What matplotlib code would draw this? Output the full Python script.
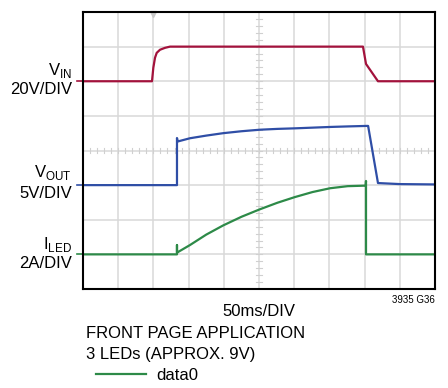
import numpy as np
import matplotlib
matplotlib.use('Agg')
import matplotlib.pyplot as plt

plt.rcParams['font.family'] = ['Liberation Sans Narrow', 'Liberation Sans', 'DejaVu Sans']
plt.rcParams['mathtext.fontset'] = 'custom'
plt.rcParams['mathtext.rm'] = 'Liberation Sans'

# scope traces, time in ms (50ms/DIV)
vin_t = [0, 98, 99.9, 102.3, 104.7, 109.4, 116.5, 123.6, 397.7, 402, 419, 500]
vin_v = [0, 0, 7.8, 13.6, 16.4, 18.2, 19.3, 20, 20, 10, 0, 0]          # 20V/DIV

vout_t = [0, 133.5, 133.5, 134.5, 152, 175, 199, 225, 251, 276, 301, 326, 351, 377, 403,
          405, 419, 450, 500]
vout_v = [0, 0, 6.8, 6.3, 6.77, 7.15, 7.5, 7.78, 8.0, 8.12, 8.2, 8.3, 8.4, 8.48, 8.55,
          8.55, 0.3, 0.15, 0.1]                                           # 5V/DIV

iled_t = [0, 133.5, 133.5, 133.5, 152, 175, 199, 225, 251, 276, 301, 326, 351, 376, 401.5,
          402, 402, 500]
iled_a = [0, 0, 0.54, 0.1, 0.54, 1.14, 1.67, 2.17, 2.6, 2.98, 3.31, 3.6, 3.82, 3.94, 3.97,
          4.24, 0, 0]                                                     # 2A/DIV

# screen position: (offset div, units per div)
vin_scale = (6, 20.0)
vout_scale = (3, 5.0)
iled_scale = (1, 2.0)

c_vin = '#a3123c'
c_vout = '#2f4ea6'
c_iled = '#2d8a48'


def to_div(t, v, sc):
    return np.array(t) / 50.0, sc[0] + np.array(v) / sc[1]


fig = plt.figure(figsize=(4.48, 3.88), dpi=100)
ax = fig.add_axes([83/448, 1-289/388, 352/448, 277/388])
ax.set_xlim(0, 10)
ax.set_ylim(0, 8)

# graticule
for i in range(1, 10):
    ax.axvline(i, color='#d9d9d9', lw=1.1, zorder=0)
for j in range(1, 8):
    ax.axhline(j, color='#d9d9d9', lw=1.1, zorder=0)
for x in np.arange(0.2, 10, 0.2):
    ax.plot([x, x], [3.93, 4.07], color='#d0d0d0', lw=0.8, zorder=0)
for y in np.arange(0.2, 8, 0.2):
    ax.plot([4.92, 5.08], [y, y], color='#d0d0d0', lw=0.8, zorder=0)

x, y = to_div(vin_t, vin_v, vin_scale)
ax.plot(x, y, color=c_vin, lw=1.6)
x, y = to_div(vout_t, vout_v, vout_scale)
ax.plot(x, y, color=c_vout, lw=1.6)
x, y = to_div(iled_t, iled_a, iled_scale)
ln, = ax.plot(x, y, color=c_iled, lw=1.6, label='data0')

# ground markers left of the screen
for sc, c in [(vin_scale, c_vin), (vout_scale, c_vout), (iled_scale, c_iled)]:
    ax.plot([-0.17, 0], [sc[0], sc[0]], color=c, lw=1.2, clip_on=False)

# trigger marker
ax.plot([2.0], [7.93], marker='v', color='#c8c8c8', ms=5, clip_on=False)

ax.set_xticks([])
ax.set_yticks([])
for s in ax.spines.values():
    s.set_linewidth(1.5)

fs = 12
kw = dict(ha='right', va='center', fontsize=fs)
fig.text(72/448, 1-70/388, r'V$_{\mathregular{IN}}$', **kw)
fig.text(72/448, 1-90/388, '20V/DIV', **kw)
fig.text(72/448, 1-173/388, r'V$_{\mathregular{OUT}}$', **kw)
fig.text(72/448, 1-194/388, '5V/DIV', **kw)
fig.text(72/448, 1-245/388, r'I$_{\mathregular{LED}}$', **kw)
fig.text(72/448, 1-264/388, '2A/DIV', **kw)

fig.text(259/448, 1-311/388, '50ms/DIV', ha='center', va='center', fontsize=fs)
fig.text(435/448, 1-300/388, '3935 G36', ha='right', va='center', fontsize=7)
fig.text(86/448, 1-334/388, 'FRONT PAGE APPLICATION', ha='left', va='center', fontsize=fs)
fig.text(86/448, 1-355/388, '3 LEDs (APPROX. 9V)', ha='left', va='center', fontsize=fs)

fig.legend(handles=[ln], loc='center left', bbox_to_anchor=(88/448, 1-375/388),
           frameon=False, fontsize=fs, handlelength=3.0, borderpad=0, handletextpad=0.6)

fig.savefig('out.png', dpi=100)
